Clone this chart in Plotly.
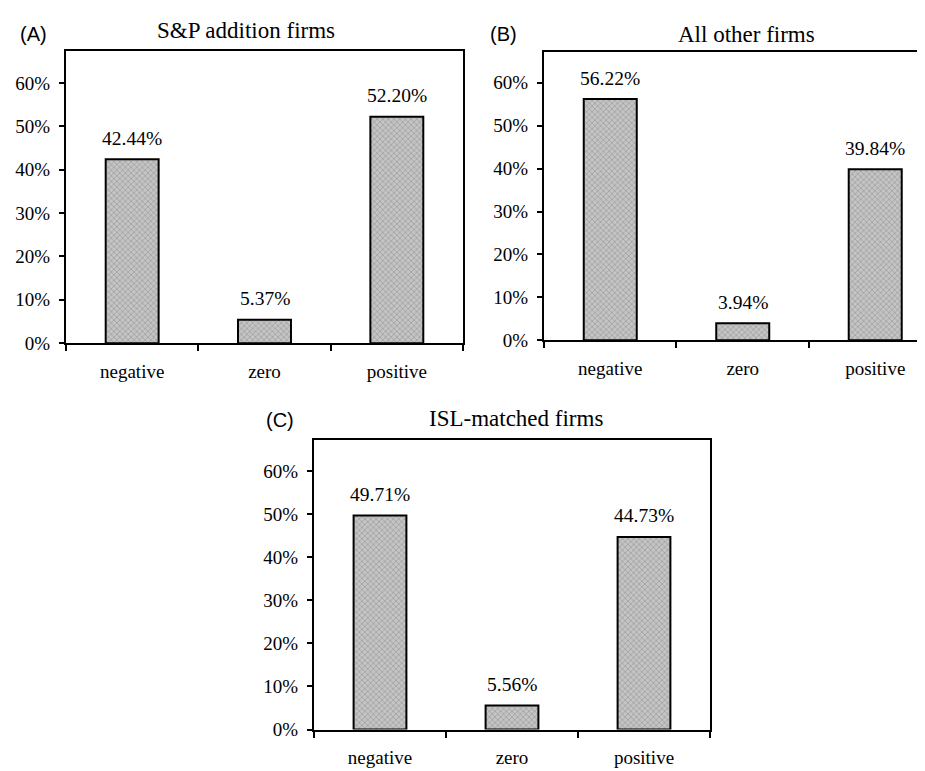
import plotly.graph_objects as go

categories = ["negative", "zero", "positive"]
vals_a = [42.44, 5.37, 52.20]
vals_b = [56.22, 3.94, 39.84]
vals_c = [49.71, 5.56, 44.73]
titles = ["S&P addition firms", "All other firms", "ISL-matched firms"]
panel_tags = ["(A)", "(B)", "(C)"]
y_ticks = [0, 10, 20, 30, 40, 50, 60]
y_tick_text = [f"{t}%" for t in y_ticks]

W, H = 925, 771
SERIF = "Liberation Serif"
SANS = "Liberation Sans"

def px_x(p):
    return p / W

def px_y(p):
    return 1 - p / H

panels = [
    dict(vals=vals_a, xd=[px_x(58), px_x(455)], yd=[px_y(340), px_y(44)],
         xr=[-0.5, 2.5], yr=[0, 67.3], mirror_y=True,
         title_xy=(238, 23), tag_xy=(25, 26)),
    dict(vals=vals_b, xd=[px_x(536), 1.0], yd=[px_y(337), px_y(45)],
         xr=[-0.5, 2.436], yr=[0, 67.1], mirror_y=False,
         title_xy=(738, 27), tag_xy=(495, 26)),
    dict(vals=vals_c, xd=[px_x(306), px_x(702)], yd=[px_y(732), px_y(438)],
         xr=[-0.5, 2.5], yr=[0, 67.3], mirror_y=True,
         title_xy=(508, 416), tag_xy=(272, 418)),
]

fig = go.Figure()
annotations = []
for i, p in enumerate(panels):
    sfx = "" if i == 0 else str(i + 1)
    xa, ya = "x" + sfx, "y" + sfx
    fig.add_trace(go.Bar(
        x=categories, y=p["vals"], xaxis=xa, yaxis=ya, width=0.4,
        marker=dict(color="#c4c4c4", line=dict(color="black", width=2),
                    pattern=dict(shape="x", fgcolor="#858585", size=4, solidity=0.4)),
        showlegend=False, hoverinfo="skip"))
    for c, v in zip(categories, p["vals"]):
        annotations.append(dict(x=c, y=v, xref=xa, yref=ya, text=f"{v:.2f}%",
                                showarrow=False, yanchor="middle", yshift=21,
                                font=dict(family=SERIF, size=19.5, color="black")))
    tx, ty = p["title_xy"]
    annotations.append(dict(x=px_x(tx), y=px_y(ty), xref="paper", yref="paper",
                            text=titles[i], showarrow=False, xanchor="center", yanchor="middle",
                            font=dict(family=SERIF, size=23, color="black")))
    gx, gy = p["tag_xy"]
    annotations.append(dict(x=px_x(gx), y=px_y(gy), xref="paper", yref="paper",
                            text=panel_tags[i], showarrow=False, xanchor="center", yanchor="middle",
                            font=dict(family=SANS, size=20, color="black")))
    fig.update_layout(**{
        "xaxis" + sfx: dict(domain=p["xd"], anchor=ya, range=p["xr"], type="category",
                            showline=True, linecolor="black", linewidth=2, mirror=True,
                            ticks="outside", ticklen=6, tickwidth=1.5, tickcolor="black",
                            tickson="boundaries", showgrid=False, zeroline=False,
                            ticklabelstandoff=10,
                            tickfont=dict(family=SERIF, size=19, color="black"), fixedrange=True),
        "yaxis" + sfx: dict(domain=p["yd"], anchor=xa, range=p["yr"], tickmode="array",
                            tickvals=y_ticks, ticktext=y_tick_text,
                            showline=True, linecolor="black", linewidth=2,
                            mirror=p["mirror_y"], ticks="outside", ticklen=5, tickwidth=1.5,
                            tickcolor="black", showgrid=False, zeroline=False,
                            ticklabelstandoff=5,
                            tickfont=dict(family=SERIF, size=19, color="black"), fixedrange=True),
    })

fig.update_layout(width=W, height=H, margin=dict(l=0, r=0, t=0, b=0),
                  paper_bgcolor="white", plot_bgcolor="white",
                  annotations=annotations, bargap=0.6)
fig.write_html("out.html")
